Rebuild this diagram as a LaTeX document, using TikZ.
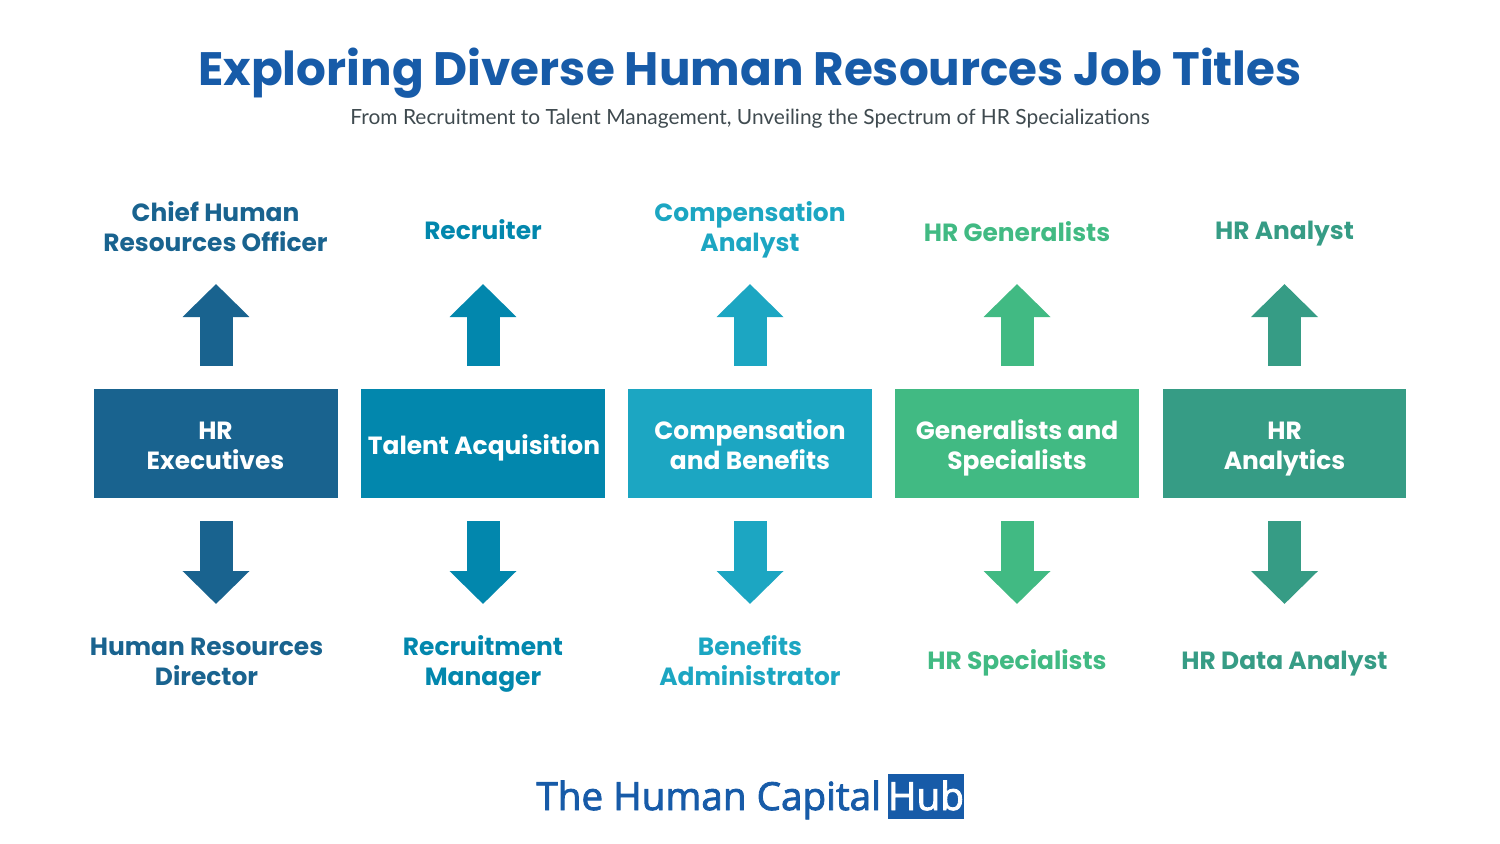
\documentclass[tikz,border=0pt]{standalone}
\usepackage{fontspec}
\setmainfont{Poppins}
\newfontfamily\subfont{Lato}
\newfontfamily\logofont{Open Sans}[FakeBold=2.2]
\usetikzlibrary{arrows.meta}
\definecolor{titleblue}{HTML}{175BA8}
\definecolor{subgray}{HTML}{3F4A4F}
\definecolor{execblue}{HTML}{19638F}
\definecolor{talentblue}{HTML}{0287AD}
\definecolor{compcyan}{HTML}{1CA6C2}
\definecolor{genergreen}{HTML}{41BA83}
\definecolor{dataGreen}{HTML}{369C85}
\tikzset{
    groupbox/.style={minimum width=4.88cm, minimum height=2.18cm, inner sep=0pt},
    jobtitle/.style={inner sep=0pt, align=center, font=\fontsize{14.17}{17}\selectfont\bfseries},
    blockarrow/.style={line width=0.66cm, shorten <=0.46cm, -{Triangle[length=0.66cm, width=1.3cm]}}
}

\begin{document}
\begin{tikzpicture}[x=0.02cm, y=-0.02cm]
            \useasboundingbox (0,0) rectangle (1500,843);
            \node[text=titleblue, inner sep=0pt, font=\fontsize{26.66}{30}\selectfont\bfseries] (title) at (750,73) {Exploring Diverse Human Resources Job Titles};
            \node[text=subgray, inner sep=0pt, font=\fontsize{11.9}{14}\subfont] (subtitle) at (750,119) {From Recruitment to Talent Management, Unveiling the Spectrum of HR Specializations};

            \node[groupbox, fill=execblue] (hrexec) at (216,443.5) {};
            \node[groupbox, fill=talentblue] (talent) at (483,443.5) {};
            \node[groupbox, fill=compcyan] (comp) at (750,443.5) {};
            \node[groupbox, fill=genergreen] (general) at (1017,443.5) {};
            \node[groupbox, fill=dataGreen] (analytics) at (1284.5,443.5) {};
            \node[jobtitle, text=white] (hrexecname) at (215.5,445.5) {HR\\Executives};
            \node[jobtitle, text=white] (talentname) at (484,447.5) {Talent Acquisition};
            \node[jobtitle, text=white] (compname) at (750,444.5) {Compensation\\and Benefits};
            \node[jobtitle, text=white] (generalname) at (1017,447.5) {Generalists and\\Specialists};
            \node[jobtitle, text=white] (analyticsname) at (1284.5,449) {HR\\Analytics};

            \node[jobtitle, text=execblue] (chro) at (215.5,227) {Chief Human\\Resources Officer};
            \node[jobtitle, text=talentblue] (recruiter) at (483,229.5) {Recruiter};
            \node[jobtitle, text=compcyan] (analyst) at (750,229.5) {Compensation\\Analyst};
            \node[jobtitle, text=genergreen] (generalists) at (1017,232) {HR Generalists};
            \node[jobtitle, text=dataGreen] (hranalyst) at (1284.5,234) {HR Analyst};

            \node[jobtitle, text=execblue] (director) at (206.5,661.5) {Human Resources\\Director};
            \node[jobtitle, text=talentblue] (manager) at (483,664) {Recruitment\\Manager};
            \node[jobtitle, text=compcyan] (admin) at (750,660.5) {Benefits\\Administrator};
            \node[jobtitle, text=genergreen] (specialists) at (1017,662.5) {HR Specialists};
            \node[jobtitle, text=dataGreen] (dataanalyst) at (1284.5,663.5) {HR Data Analyst};

            \coordinate (hrexecUp) at (216,284);
            \coordinate (talentUp) at (483,284);
            \coordinate (compUp) at (750,284);
            \coordinate (generalUp) at (1017,284);
            \coordinate (analyticsUp) at (1284.5,284);
            \coordinate (hrexecDown) at (216,604);
            \coordinate (talentDown) at (483,604);
            \coordinate (compDown) at (750,604);
            \coordinate (generalDown) at (1017,604);
            \coordinate (analyticsDown) at (1284.5,604);

            \draw[blockarrow, execblue] (hrexec.north) -- (hrexecUp);
            \draw[blockarrow, talentblue] (talent.north) -- (talentUp);
            \draw[blockarrow, compcyan] (comp.north) -- (compUp);
            \draw[blockarrow, genergreen] (general.north) -- (generalUp);
            \draw[blockarrow, dataGreen] (analytics.north) -- (analyticsUp);
            \draw[blockarrow, execblue] (hrexec.south) -- (hrexecDown);
            \draw[blockarrow, talentblue] (talent.south) -- (talentDown);
            \draw[blockarrow, compcyan] (comp.south) -- (compDown);
            \draw[blockarrow, genergreen] (general.south) -- (generalDown);
            \draw[blockarrow, dataGreen] (analytics.south) -- (analyticsDown);

            \node[text=titleblue, inner sep=0pt, anchor=base west, font=\fontsize{22}{26}\logofont] (logo) at (536,810) {The Human Capital};
            \node[fill=titleblue, minimum width=1.52cm, minimum height=0.9cm, inner sep=0pt] (hub) at (926,796.5) {};
            \node[text=white, inner sep=0pt, anchor=base, font=\fontsize{22}{26}\logofont] (hubname) at (926,810) {Hub};
        \end{tikzpicture}
\end{document}
